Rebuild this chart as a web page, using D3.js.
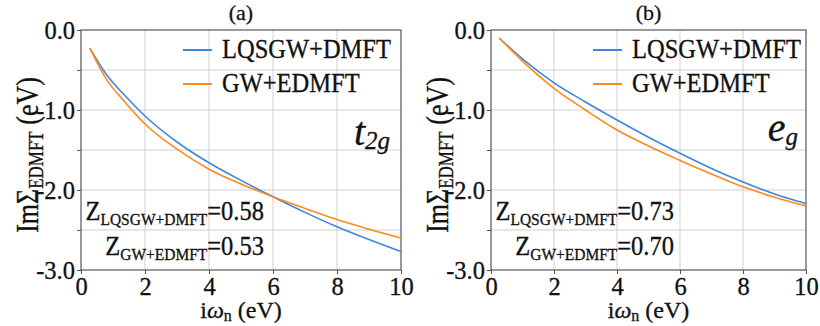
<!DOCTYPE html>
<html>
<head>
<meta charset="utf-8">
<script src="https://cdn.jsdelivr.net/npm/d3@7"></script>
<style>
  body { margin: 0; background: #fff; }
  svg { display: block; }
  text { font-family: "Liberation Serif", "Times New Roman", serif; fill: #111; stroke: #111; stroke-width: 0.3px; }
</style>
</head>
<body>
<svg id="chart" width="820" height="326"></svg>
<script>
// ---- data ----
const seriesNames = ["LQSGW+DMFT", "GW+EDMFT"];
const seriesColors = ["#3f86dc", "#ff8a1c"];

const xA = [0.28, 0.8, 1.35, 2, 3, 4, 5, 6, 7, 8, 9, 10];
const t2gLQSGW = [-0.23, -0.56, -0.81, -1.075, -1.40, -1.66, -1.88, -2.085, -2.28, -2.46, -2.62, -2.77];
const t2gGW    = [-0.23, -0.62, -0.89, -1.175, -1.49, -1.74, -1.925, -2.085, -2.23, -2.37, -2.49, -2.60];

const xB = [0.26, 1, 2, 3, 4, 5, 6, 7, 8, 9, 10];
const egLQSGW = [-0.10, -0.36, -0.66, -0.90, -1.125, -1.34, -1.54, -1.73, -1.90, -2.05, -2.17];
const egGW    = [-0.10, -0.39, -0.73, -1.00, -1.25, -1.45, -1.63, -1.80, -1.96, -2.09, -2.20];

const xTicks = [0, 2, 4, 6, 8, 10];
const yTicks = [0, -1, -2, -3];
const yTickLabels = ["0.0", "-1.0", "-2.0", "-3.0"];
const yMinor = [0, -0.5, -1, -1.5, -2, -2.5, -3];

const panels = [
  { title: "(a)", orbital: "t", orbSub: "2g", x: xA, ys: [t2gLQSGW, t2gGW],
    zLabels: [["LQSGW+DMFT", "0.58"], ["GW+EDMFT", "0.53"]],
    left: 81, right: 401, orbX: 390, orbY: 145 },
  { title: "(b)", orbital: "e", orbSub: "g", x: xB, ys: [egLQSGW, egGW],
    zLabels: [["LQSGW+DMFT", "0.73"], ["GW+EDMFT", "0.70"]],
    left: 491, right: 806, orbX: 798, orbY: 141 }
];

const plotTop = 30, plotBottom = 270;
const STRETCH = 1.1;
const svg = d3.select("#chart");

// vertical stretch of a text around its anchor point
function stretch(sel, x, y) {
  sel.attr("transform", `translate(${x},${y}) scale(1,${STRETCH}) translate(${-x},${-y})`);
}

panels.forEach(p => {
  const x = d3.scaleLinear().domain([0, 10]).range([p.left, p.right]);
  const y = d3.scaleLinear().domain([-3, 0]).range([plotBottom, plotTop]);
  const g = svg.append("g");

  // grid
  g.selectAll(".gx").data(xTicks.slice(1, -1)).join("line")
    .attr("x1", d => x(d)).attr("x2", d => x(d))
    .attr("y1", plotTop).attr("y2", plotBottom)
    .attr("stroke", "#cfcfcf").attr("stroke-width", 1);
  g.selectAll(".gy").data(yMinor.slice(1, -1)).join("line")
    .attr("x1", p.left).attr("x2", p.right)
    .attr("y1", d => y(d)).attr("y2", d => y(d))
    .attr("stroke", "#cfcfcf").attr("stroke-width", 1);

  // axes
  const xAxis = d3.axisBottom(x).tickValues(xTicks).tickSize(4).tickPadding(3)
    .tickFormat(d3.format("d"));
  const gx = g.append("g").attr("transform", `translate(0,${plotBottom})`).call(xAxis);
  gx.select(".domain").remove();
  gx.selectAll("line").attr("stroke", "#555");
  gx.selectAll("text").attr("font-size", 24.5).attr("font-family", "Liberation Serif")
    .attr("fill", "#111").attr("dy", "0.72em");

  const yAxis = d3.axisLeft(y).tickValues(yMinor).tickSize(4).tickPadding(2)
    .tickFormat(d => { const i = yTicks.indexOf(d); return i >= 0 ? yTickLabels[i] : ""; });
  const gy = g.append("g").attr("transform", `translate(${p.left},0)`).call(yAxis);
  gy.select(".domain").remove();
  gy.selectAll("line").attr("stroke", "#555");
  gy.selectAll("text").attr("font-size", 24.5).attr("font-family", "Liberation Serif")
    .attr("fill", "#111").attr("dy", "0.36em");

  // frame
  g.append("rect").attr("x", p.left).attr("y", plotTop)
    .attr("width", p.right - p.left).attr("height", plotBottom - plotTop)
    .attr("fill", "none").attr("stroke", "#555").attr("stroke-width", 1.2);

  // lines
  const line = d3.line().x((d, i) => x(p.x[i])).y(d => y(d)).curve(d3.curveMonotoneX);
  p.ys.forEach((s, k) => {
    g.append("path").datum(s).attr("d", line)
      .attr("fill", "none").attr("stroke", seriesColors[k]).attr("stroke-width", 1.6);
  });

  // legend
  seriesNames.forEach((n, k) => {
    const ly = 50 + k * 34;
    g.append("line").attr("x1", p.left + 102).attr("x2", p.left + 131)
      .attr("y1", ly).attr("y2", ly)
      .attr("stroke", seriesColors[k]).attr("stroke-width", 2);
    const lt = g.append("text").attr("x", p.left + 141).attr("y", ly + 8.5)
      .attr("font-size", 24.5).text(n);
    stretch(lt, p.left + 141, ly + 8.5);
  });

  // title
  g.append("text").attr("x", (p.left + p.right) / 2).attr("y", 20)
    .attr("text-anchor", "middle").attr("font-size", 22).text(p.title);

  // orbital label
  const ot = g.append("text").attr("x", p.orbX).attr("y", p.orbY)
    .attr("text-anchor", "end").attr("font-style", "italic").attr("font-size", 40);
  ot.append("tspan").text(p.orbital);
  ot.append("tspan").attr("font-size", 25).attr("dy", 4).text(p.orbSub);

  // Z annotations
  p.zLabels.forEach((z, k) => {
    const zy = 220 + k * 35;
    const t = g.append("text").attr("x", p.left + 183).attr("y", zy)
      .attr("text-anchor", "end").attr("font-size", 24.5);
    t.append("tspan").text("Z");
    t.append("tspan").attr("font-size", 15.5).attr("dy", 5).text(z[0]);
    t.append("tspan").attr("dy", -5).text("=" + z[1]);
    stretch(t, p.left + 183, zy);
  });

  // axis labels
  const xl = g.append("text").attr("x", (p.left + p.right) / 2).attr("y", 318)
    .attr("text-anchor", "middle").attr("font-size", 24);
  xl.append("tspan").text("i");
  xl.append("tspan").attr("font-style", "italic").text("ω");
  xl.append("tspan").attr("font-size", 16).attr("dy", 3).text("n");
  xl.append("tspan").attr("dy", -3).text(" (eV)");

  const yl = g.append("text")
    .attr("transform", `translate(${p.left - 43},${(plotTop + plotBottom) / 2 + 5}) rotate(-90) scale(1,${STRETCH + 0.1})`)
    .attr("text-anchor", "middle").attr("font-size", 26);
  yl.append("tspan").text("ImΣ");
  yl.append("tspan").attr("font-size", 17).attr("dy", 4).text("EDMFT");
  yl.append("tspan").attr("dy", -4).text(" (eV)");
});
</script>
</body>
</html>
